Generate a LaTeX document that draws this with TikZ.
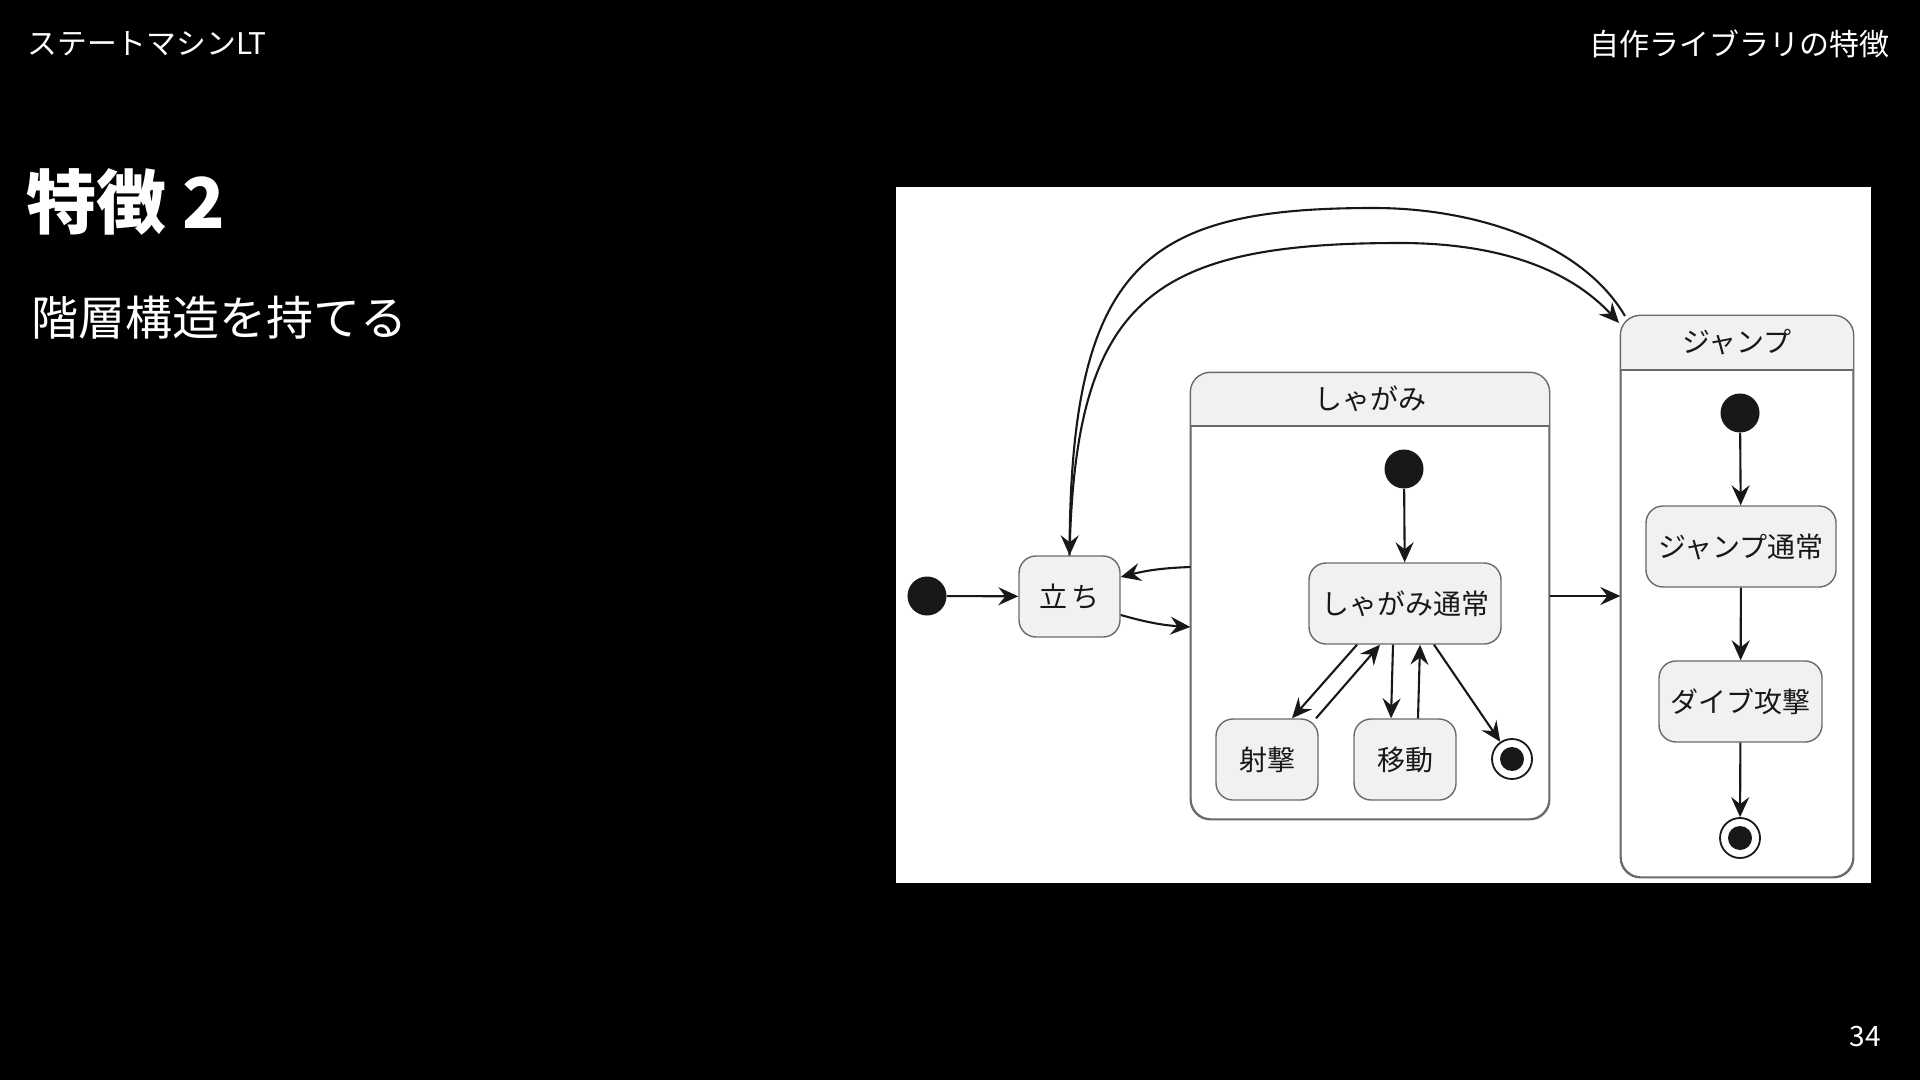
\documentclass[tikz,border=0pt]{standalone}
\usepackage{fontspec}
\setmainfont{Noto Sans CJK JP}
\usetikzlibrary{arrows.meta,calc}
\definecolor{stfill}{HTML}{F1F1F1}
\definecolor{stborder}{HTML}{6A6A6A}
\definecolor{stline}{HTML}{181818}
\begin{document}
\begin{tikzpicture}[x=0.5pt,y=-0.5pt,
  txt/.style={text=white,inner sep=0pt},
  stbox/.style={draw=stborder,fill=stfill,line width=0.7pt,rounded corners=8.5pt,
    minimum height=40.5pt,inner sep=0pt,font=\fontsize{14pt}{16pt}\selectfont,text=stline},
  comp/.style={draw=stborder,line width=0.7pt,rounded corners=10pt,fill=white,inner sep=0pt},
  initdot/.style={circle,fill=stline,minimum size=19.5pt,inner sep=0pt},
  finout/.style={circle,draw=stline,fill=white,line width=0.9pt,minimum size=20pt,inner sep=0pt},
  findot/.style={circle,fill=stline,minimum size=12pt,inner sep=0pt},
  conn/.style={draw=stline,line width=1.05pt,-{Stealth[length=10pt,width=9pt,inset=3.5pt]}},
  ctitle/.style={font=\fontsize{14pt}{16pt}\selectfont,text=stline,inner sep=0pt}]
\fill[black] (0,0) rectangle (1920,1080);
\useasboundingbox (0,0) rectangle (1920,1080);
% slide texts
\node[txt,anchor=west,font=\fontsize{14.9pt}{17pt}\selectfont] (hdl) at (27,44) {ステートマシンLT};
\node[txt,anchor=east,font=\fontsize{15pt}{17pt}\selectfont] (hdr) at (1890,44) {自作ライブラリの特徴};
\node[txt,anchor=west,font=\fontsize{35pt}{40pt}\selectfont\bfseries] (title) at (26,202) {特徴 2};
\node[txt,anchor=west,font=\fontsize{23.5pt}{27pt}\selectfont] (sub) at (31,318) {階層構造を持てる};
\node[txt,font=\fontsize{14pt}{16pt}\selectfont] (pg) at (1865,1037) {34};
% diagram panel
\node[fill=white,inner sep=0pt,minimum width=487.5pt,minimum height=348pt] (panel) at (1383.5,535) {};
% composites
\node[comp,minimum width=179pt,minimum height=223pt] (shagami) at (1370,596) {};
\fill[stfill] (shagami.west |- 0,426) {[rounded corners=10pt] -- (shagami.north west) -- (shagami.north east)} -- (shagami.east |- 0,426) -- cycle;
\draw[stborder,line width=0.7pt,rounded corners=10pt] (shagami.south west) rectangle (shagami.north east);
\draw[stborder,line width=0.7pt] (shagami.west |- 0,426) -- (shagami.east |- 0,426);
\node[ctitle] (shagamiT) at (1370,399) {しゃがみ};
\node[comp,minimum width=116pt,minimum height=280.5pt] (jump) at (1737,596.5) {};
\fill[stfill] (jump.west |- 0,370) {[rounded corners=10pt] -- (jump.north west) -- (jump.north east)} -- (jump.east |- 0,370) -- cycle;
\draw[stborder,line width=0.7pt,rounded corners=10pt] (jump.south west) rectangle (jump.north east);
\draw[stborder,line width=0.7pt] (jump.west |- 0,370) -- (jump.east |- 0,370);
\node[ctitle] (jumpT) at (1737,342) {ジャンプ};
% states
\node[initdot] (init) at (927,596) {};
\node[stbox,minimum width=50.5pt] (tachi) at (1069.5,596.5) {立\,ち};
\node[initdot] (sinit) at (1404,469) {};
\node[stbox,minimum width=96pt] (shagamiN) at (1405,603.5) {しゃがみ通常};
\node[stbox,minimum width=51pt] (shageki) at (1267,759.5) {射撃};
\node[stbox,minimum width=51pt] (idou) at (1405,759.5) {移動};
\node[finout] (sfinal) at (1512,759) {};
\node[findot] (sfinaldot) at (1512,759) {};
\node[initdot] (jinit) at (1740,413) {};
\node[stbox,minimum width=95pt] (jumpN) at (1741,546.5) {ジャンプ通常};
\node[stbox,minimum width=81.5pt] (dive) at (1740.5,701.5) {ダイブ攻撃};
\node[finout] (jfinal) at (1740,838) {};
\node[findot] (jfinaldot) at (1740,838) {};
% connectors
\draw[conn] (init) -- (tachi);
\draw[conn] (shagami.west |- 0,567) to[bend right=6] (tachi.east |- 0,577);
\draw[conn] (tachi.east |- 0,615) to[bend right=6] (shagami.west |- 0,627);
\draw[conn] (shagami.east |- 0,596) -- (jump.west |- 0,596);
\coordinate (jtop) at (1625,316);
\coordinate (jleft) at (1619,323);
\draw[conn] (jtop) .. controls (1580,240) and (1470,208) .. (1374,208)
  .. controls (1150,208) and (1072,260) .. (tachi.north);
\draw[conn] (tachi.north) .. controls (1075,300) and (1150,243) .. (1400,243)
  .. controls (1500,243) and (1570,270) .. (jleft);
\draw[conn] (sinit) -- (shagamiN);
\draw[conn] (shagamiN.south -| 1357,0) -- (shageki.north -| 1292,0);
\draw[conn] (shageki.north -| 1316,0) -- (shagamiN.south -| 1380,0);
\draw[conn] (shagamiN.south -| 1393,0) -- (idou.north -| 1391,0);
\draw[conn] (idou.north -| 1418,0) -- (shagamiN.south -| 1420,0);
\draw[conn] (shagamiN.south -| 1434,0) -- (sfinal);
\draw[conn] (jinit) -- (jumpN);
\draw[conn] (jumpN) -- (dive);
\draw[conn] (dive) -- (jfinal);
\end{tikzpicture}
\end{document}
